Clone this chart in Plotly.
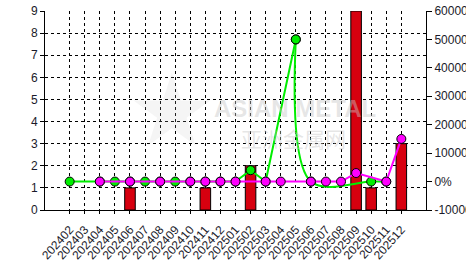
import plotly.graph_objects as go

months = ['202402', '202403', '202404', '202405', '202406', '202407', '202408', '202409',
          '202410', '202411', '202412', '202501', '202502', '202503', '202504', '202505',
          '202506', '202507', '202508', '202509', '202510', '202511', '202512']

total = [None, None, None, None, 1, None, None, None, None, 1, None, None,
         2, None, None, None, None, None, None, 9, 1, None, 3]

yoy = [None, None, 0, None, 0, None, 0, None, 0, 0, 0, 0,
       None, 0, 0, None, 0, 0, 0, 3000, None, 0, 15000]

mom = [0, None, 0, 0, 0, 0, 0, 0, 0, 0, 0, 0,
       4000, 0, None, 50000, 0, None, None, None, 0, 0, None]

left_ticks = list(range(0, 10))
right_ticks = list(range(-10000, 60001, 10000))
right_text = [f"{v}%" for v in right_ticks]

FONT = "Liberation Sans"
CJK = "Noto Sans CJK SC"
TXT = "#1a1a2a"
GREEN = "#00ee00"
MAGENTA = "#ff00ff"
RED = "#d7000f"

split = months.index('202505')

fig = go.Figure()

fig.add_trace(go.Bar(
    x=months, y=total, name="总计", yaxis="y",
    marker=dict(color=RED, line=dict(color="black", width=1)),
    legendrank=3,
))

fig.add_trace(go.Scatter(
    x=months[split:], y=mom[split:], yaxis="y2", mode="lines",
    connectgaps=True, hoverinfo="skip", showlegend=False,
    line=dict(color=GREEN, width=2, shape="spline", smoothing=1),
))

fig.add_trace(go.Scatter(
    x=months[:split + 1], y=mom[:split + 1], name="环比", yaxis="y2", mode="lines+markers",
    connectgaps=True,
    line=dict(color=GREEN, width=2),
    marker=dict(color=GREEN, size=9, line=dict(color="black", width=1)),
    legendrank=2,
))

fig.add_trace(go.Scatter(
    x=months[split:], y=mom[split:], name="环比", yaxis="y2", mode="markers",
    showlegend=False,
    marker=dict(color=GREEN, size=9, line=dict(color="black", width=1)),
))

fig.add_trace(go.Scatter(
    x=months, y=yoy, name="同比", yaxis="y2", mode="lines+markers",
    connectgaps=True,
    line=dict(color=MAGENTA, width=2),
    marker=dict(color=MAGENTA, size=9, line=dict(color="black", width=1)),
    legendrank=1,
))

H = 272.0
PH = H - 11


def py(px):
    return (H - px) / PH


# watermark
fig.add_annotation(text="★", x=0.21, y=py(110), xref="paper", yref="paper",
                   showarrow=False, font=dict(size=100, color="rgba(190,190,190,0.16)", family="DejaVu Sans"))
fig.add_annotation(text="<b>ASIAN METAL</b>", x=0.655, y=py(108), xref="paper", yref="paper",
                   showarrow=False, font=dict(size=24, color="rgba(200,200,200,0.45)", family=FONT))
fig.add_annotation(text="亚洲金属网", x=0.652, y=py(137.5), xref="paper", yref="paper",
                   showarrow=False, font=dict(size=21, color="rgba(200,200,200,0.45)", family=CJK))

fig.update_layout(
    width=466, height=272,
    margin=dict(l=45, r=40, t=11, b=0, autoexpand=False),
    paper_bgcolor="white", plot_bgcolor="white",
    bargap=0.3,
    showlegend=True,
    legend=dict(orientation="h", xref="paper", yref="paper",
                x=-0.014, y=py(287), xanchor="left", yanchor="middle",
                font=dict(family=CJK, size=11, color="#333"),
                bgcolor="rgba(0,0,0,0)"),
    xaxis=dict(type="category", categoryorder="array", categoryarray=months,
               automargin=False, anchor="y",
               showgrid=True, gridcolor="black", griddash="dot", gridwidth=1,
               showline=True, linecolor="black", linewidth=1,
               ticks="outside", ticklen=3, tickcolor="black", ticklabelstandoff=4,
               tickangle=-48, tickfont=dict(family=FONT, size=12, color=TXT)),
    yaxis=dict(range=[0, 9], tickvals=left_ticks, automargin=False,
               domain=[py(210), 1],
               showgrid=True, gridcolor="black", griddash="dot", gridwidth=1,
               zeroline=False, showline=True, linecolor="black", linewidth=1,
               ticks="outside", ticklen=4, tickcolor="black",
               tickfont=dict(family=FONT, size=12, color=TXT)),
    yaxis2=dict(range=[-10000, 60000], tickvals=right_ticks, ticktext=right_text,
                automargin=False,
                overlaying="y", side="right", showgrid=False, zeroline=False,
                showline=True, linecolor="black", linewidth=1,
                ticks="outside", ticklen=5, tickcolor="black",
                tickfont=dict(family=FONT, size=12, color=TXT)),
)

fig.write_html("out.html")
